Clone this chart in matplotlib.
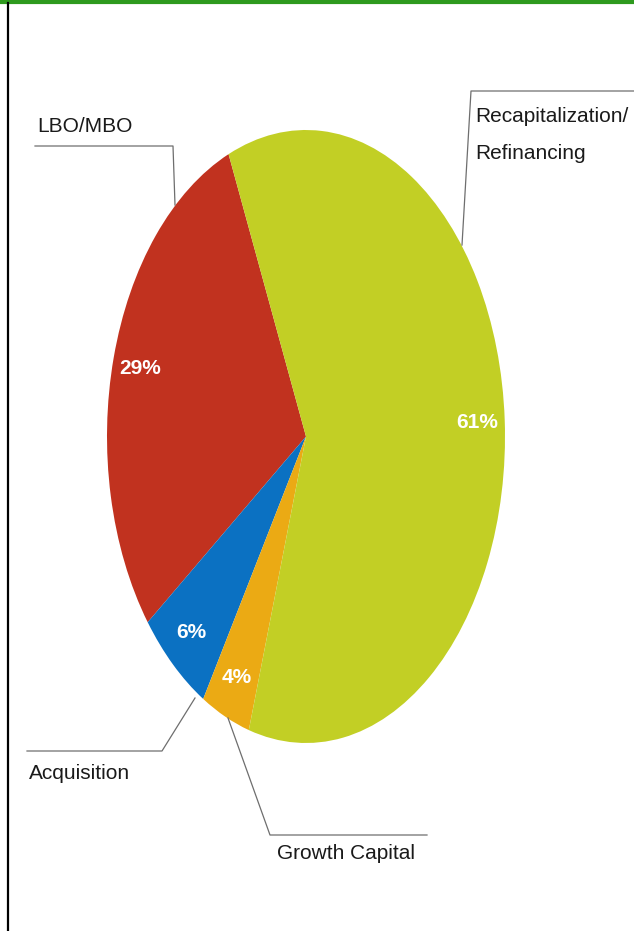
import matplotlib
matplotlib.use("Agg")
import matplotlib.pyplot as plt

# data
labels = ["LBO/MBO", "Acquisition", "Growth Capital", "Recapitalization/\nRefinancing"]
shares = [29, 6, 4, 61]
colors = ["#C1321F", "#0B71C2", "#EBAA14", "#C2CF25"]

W, H = 634, 931
fig = plt.figure(figsize=(W / 100, H / 100), dpi=100)
fig.patch.set_facecolor("white")

fam = ["Liberation Sans", "DejaVu Sans"]

# pie lives in its own axes, stretched into an ellipse
x0, x1, y0, y1 = 107, 505, 130, 743
pax = fig.add_axes([x0 / W, (H - y1) / H, (x1 - x0) / W, (y1 - y0) / H])
wedges, _, autotexts = pax.pie(
    shares, colors=colors, startangle=112.9, counterclock=True,
    autopct="%d%%", pctdistance=0.86, radius=1,
    wedgeprops=dict(linewidth=0),
    textprops=dict(color="white", fontsize=15, fontweight="bold", family=fam),
)
pax.set_aspect("auto")
pax.set_xlim(-1, 1)
pax.set_ylim(-1, 1)
pax.axis("off")

# overlay in pixel coords for borders, leaders and labels
ax = fig.add_axes([0, 0, 1, 1], facecolor="none")
ax.set_xlim(0, W)
ax.set_ylim(H, 0)
ax.axis("off")

ax.plot([0, W], [1.5, 1.5], color="#2E9A1E", lw=3, solid_capstyle="butt")
ax.plot([8, 8], [3, H], color="black", lw=1.6)

gray = "#6E6E6E"
ax.plot([35, 173, 175], [146, 146, 205], color=gray, lw=0.9)
ax.plot([W, 471, 462], [91, 91, 245], color=gray, lw=0.9)
ax.plot([195, 162, 27], [698, 751, 751], color=gray, lw=0.9)
ax.plot([228, 270, 427], [718, 835, 835], color=gray, lw=0.9)

kw = dict(fontsize=15, color="#1A1A1A", family=fam, va="baseline", ha="left")
ax.text(37, 132, labels[0], **kw)
ax.text(29, 779, labels[1], **kw)
ax.text(277, 859, labels[2], **kw)
ax.text(475, 122, labels[3].split("\n")[0], **kw)
ax.text(475, 159, labels[3].split("\n")[1], **kw)

fig.savefig("out.png", dpi=100)
